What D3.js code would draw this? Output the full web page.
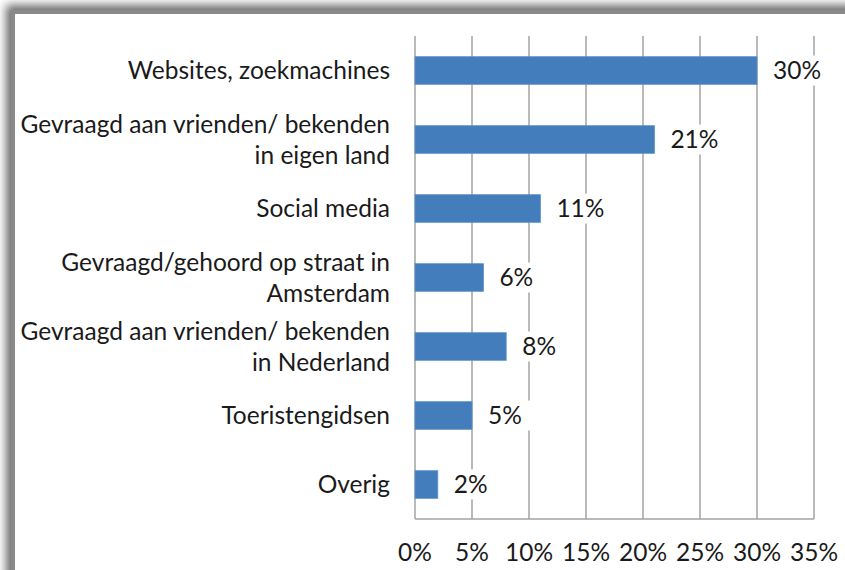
<!DOCTYPE html>
<html>
<head>
<meta charset="utf-8">
<script src="https://cdn.jsdelivr.net/npm/d3@7"></script>
<style>
  body { margin: 0; background: #fff; }
  text { font-family: Lato, "Open Sans", sans-serif; fill: #1a1a1a; }
</style>
</head>
<body>
<script>
const width = 845;
const height = 570;

// data
const categories = [
    ["Websites, zoekmachines"],
    ["Gevraagd aan vrienden/ bekenden", "in eigen land"],
    ["Social media"],
    ["Gevraagd/gehoord op straat in", "Amsterdam"],
    ["Gevraagd aan vrienden/ bekenden", "in Nederland"],
    ["Toeristengidsen"],
    ["Overig"]
];
const values = [30, 21, 11, 6, 8, 5, 2];
const ticks = [0, 5, 10, 15, 20, 25, 30, 35];

const margin = {left: 415, right: 31, top: 36, bottom: 51};
const fontSize = "24.5px";

let svg = d3.select("body").append("svg")
    .attr("width", width)
    .attr("height", height);

// frame with shadow
let defs = svg.append("defs");
let blur = defs.append("filter").attr("id", "shadow")
    .attr("x", "-10%").attr("y", "-10%").attr("width", "120%").attr("height", "120%");
blur.append("feGaussianBlur").attr("stdDeviation", 5);

svg.append("rect")
    .attr("x", 6).attr("y", 5)
    .attr("width", width + 40).attr("height", height + 40)
    .attr("fill", "#6a6a6a")
    .attr("filter", "url(#shadow)");
svg.append("rect")
    .attr("x", 13).attr("y", 12)
    .attr("width", width + 40).attr("height", height + 40)
    .attr("fill", "#fff")
    .attr("stroke", "#8a8a8a")
    .attr("stroke-width", 4);

let scaleX = d3.scaleLinear()
    .domain([0, 35])
    .range([margin.left, width - margin.right]);

let scaleY = d3.scaleBand()
    .domain(d3.range(categories.length))
    .range([margin.top, height - margin.bottom])
    .paddingInner(0.6)
    .paddingOuter(0.3);

// gridlines
svg.append("g")
    .selectAll("line")
    .data(ticks)
    .enter().append("line")
    .attr("x1", d => scaleX(d)).attr("x2", d => scaleX(d))
    .attr("y1", margin.top).attr("y2", height - margin.bottom)
    .attr("stroke", "#a3a3a3")
    .attr("stroke-width", 1.5);

svg.append("line")
    .attr("x1", scaleX(0)).attr("x2", scaleX(35))
    .attr("y1", height - margin.bottom).attr("y2", height - margin.bottom)
    .attr("stroke", "#a3a3a3")
    .attr("stroke-width", 1.5);

// bars
svg.append("g")
    .selectAll("rect")
    .data(values)
    .enter().append("rect")
    .attr("x", scaleX(0))
    .attr("y", (d, i) => scaleY(i))
    .attr("width", d => scaleX(d) - scaleX(0))
    .attr("height", scaleY.bandwidth())
    .attr("fill", "#447dbc")
    .attr("stroke", "#5b8fcb")
    .attr("stroke-width", 0.8);

// value labels with white boxes
let valueLabels = svg.append("g")
    .selectAll("g")
    .data(values)
    .enter().append("g")
    .attr("transform", (d, i) => "translate(" + (scaleX(d) + 16) + "," + (scaleY(i) + scaleY.bandwidth() / 2) + ")");

valueLabels.append("rect")
    .attr("x", -4).attr("y", -15)
    .attr("width", 54).attr("height", 30)
    .attr("fill", "#fff");

valueLabels.append("text")
    .attr("dy", "0.35em")
    .style("font-size", fontSize)
    .text(d => d + "%");

// category labels
let catLabels = svg.append("g")
    .selectAll("text")
    .data(categories)
    .enter().append("text")
    .attr("x", 390)
    .attr("y", (d, i) => scaleY(i) + scaleY.bandwidth() / 2)
    .attr("text-anchor", "end")
    .style("font-size", fontSize);

catLabels.selectAll("tspan")
    .data(d => d.map((line, k) => ({line: line, k: k, n: d.length})))
    .enter().append("tspan")
    .attr("x", 390)
    .attr("y", function(d) {
        let base = +d3.select(this.parentNode).attr("y");
        return base + (d.k - (d.n - 1) / 2) * 31;
    })
    .attr("dy", "0.35em")
    .text(d => d.line);

// x tick labels
svg.append("g")
    .selectAll("text")
    .data(ticks)
    .enter().append("text")
    .attr("x", d => scaleX(d))
    .attr("y", 552)
    .attr("dy", "0.35em")
    .attr("text-anchor", "middle")
    .style("font-size", fontSize)
    .text(d => d + "%");
</script>
</body>
</html>
